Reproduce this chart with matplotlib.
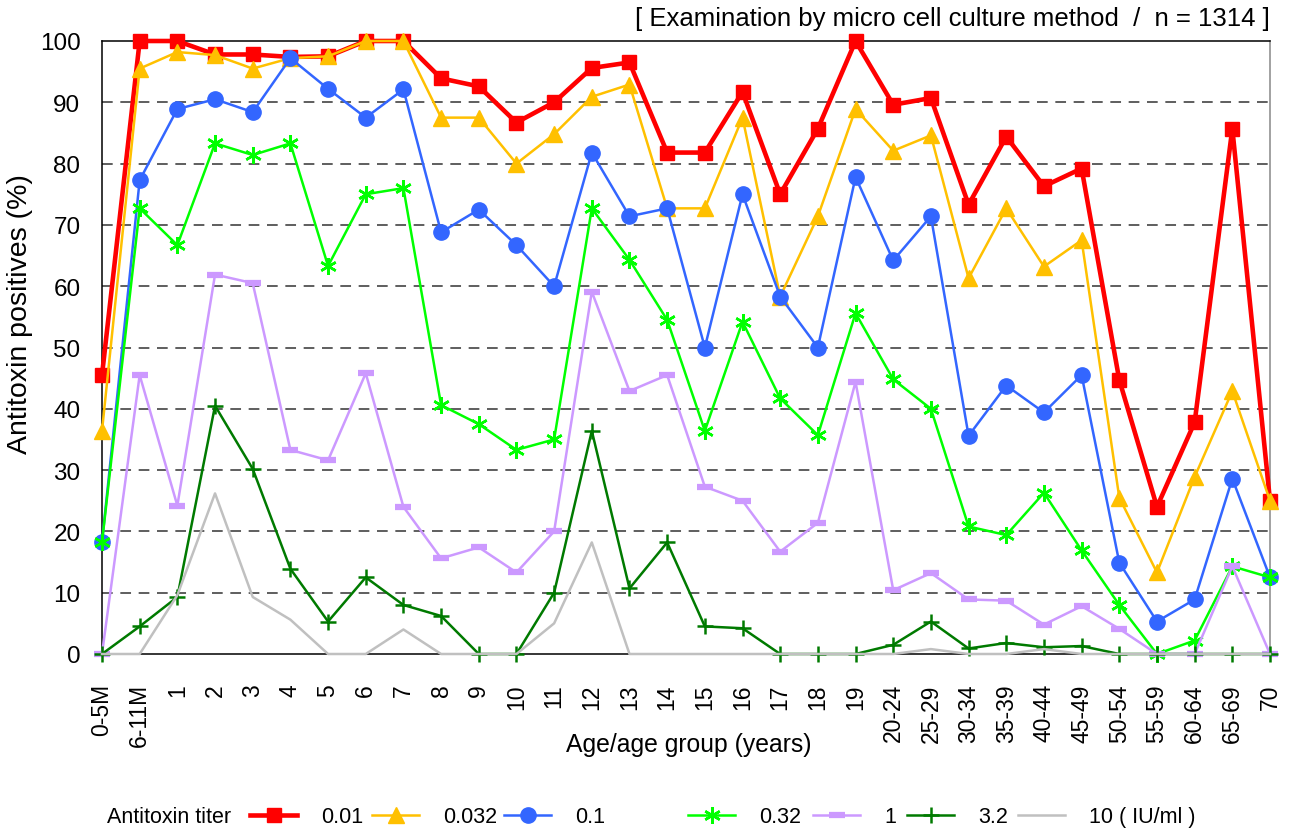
import matplotlib
matplotlib.use('Agg')
import matplotlib.pyplot as plt

plt.rcParams['font.family'] = ['Liberation Sans', 'DejaVu Sans']

# grupos de edad (eje x)
ages = ['0-5M', '6-11M', '1', '2', '3', '4', '5', '6', '7', '8', '9', '10',
        '11', '12', '13', '14', '15', '16', '17', '18', '19',
        '20-24', '25-29', '30-34', '35-39', '40-44', '45-49',
        '50-54', '55-59', '60-64', '65-69', '70']

# porcentaje de positivos por titulo de antitoxina
t001 = [45.5, 100, 100, 97.8, 97.8, 97.4, 97.5, 100, 100, 93.9, 92.6, 86.7,
        90.0, 95.6, 96.5, 81.8, 81.8, 91.7, 75.0, 85.7, 100,
        89.6, 90.7, 73.3, 84.4, 76.3, 79.2, 44.7, 24.0, 37.8, 85.7, 25.0]
t0032 = [36.4, 95.5, 98.2, 97.7, 95.5, 97.2, 97.5, 100, 100, 87.5, 87.5, 80.0,
         84.8, 90.9, 92.9, 72.7, 72.7, 87.5, 58.3, 71.4, 88.9,
         82.1, 84.6, 61.3, 72.7, 63.2, 67.5, 25.5, 13.3, 28.9, 42.9, 25.0]
t01 = [18.2, 77.3, 88.9, 90.5, 88.4, 97.2, 92.2, 87.5, 92.1, 68.8, 72.5, 66.7,
       60.0, 81.8, 71.4, 72.7, 50.0, 75.0, 58.3, 50.0, 77.8,
       64.2, 71.4, 35.6, 43.8, 39.4, 45.5, 14.9, 5.3, 8.9, 28.6, 12.5]
t032 = [18.2, 72.7, 66.7, 83.3, 81.4, 83.3, 63.3, 75.0, 76.0, 40.6, 37.5, 33.3,
        35.0, 72.7, 64.3, 54.5, 36.4, 54.2, 41.7, 35.7, 55.6,
        44.8, 40.0, 20.8, 19.4, 26.3, 16.9, 8.0, 0, 2.2, 14.3, 12.5]
t1 = [0, 45.5, 24.2, 61.9, 60.5, 33.3, 31.6, 45.8, 24.0, 15.6, 17.4, 13.3,
      20.0, 59.1, 42.9, 45.5, 27.3, 25.0, 16.7, 21.4, 44.4,
      10.4, 13.2, 8.9, 8.7, 4.8, 7.8, 4.1, 0, 0, 14.3, 0]
t32 = [0, 4.5, 9.3, 40.5, 30.2, 13.9, 5.3, 12.5, 8.0, 6.2, 0, 0,
       10.0, 36.4, 10.7, 18.2, 4.5, 4.2, 0, 0, 0,
       1.5, 5.3, 0.9, 1.8, 1.1, 1.3, 0, 0, 0, 0, 0]
t10 = [0, 0, 9.6, 26.2, 9.3, 5.6, 0, 0, 4.0, 0, 0, 0,
       5.0, 18.2, 0, 0, 0, 0, 0, 0, 0,
       0, 0.8, 0, 0, 0.8, 0, 0, 0, 0, 0, 0]

W, H = 1290, 837
fig = plt.figure(figsize=(W / 100, H / 100), dpi=100)
ax = fig.add_axes([102 / W, 1 - 655 / H, (1270 - 102) / W, (655 - 42) / H])

x = list(range(len(ages)))
comun = dict(clip_on=False, zorder=4)
l1, = ax.plot(x, t001, color='#FF0000', lw=3.3, marker='s', ms=10, **comun)
l2, = ax.plot(x, t0032, color='#FFC000', lw=1.8, marker='^', ms=11, **comun)
l3, = ax.plot(x, t01, color='#3366FF', lw=1.8, marker='o', ms=11, **comun)
l4, = ax.plot(x, t032, color='#00FF00', lw=1.8, marker=(6, 2, 0), ms=12,
              mew=1.8, **comun)
l5, = ax.plot(x, t1, color='#CC99FF', lw=1.8, marker='_', ms=11, mew=4.5, **comun)
l6, = ax.plot(x, t32, color='#007A00', lw=1.8, marker='+', ms=12, mew=1.8, **comun)
l7, = ax.plot(x, t10, color='#C0C0C0', lw=1.8, **comun)

ax.set_xlim(0, len(ages) - 1)
ax.set_ylim(0, 100)
ax.set_yticks(range(0, 101, 10))
ax.set_xticks(x)
ax.set_xticklabels(ages, rotation=90, va='top', ha='center')
ax.tick_params(axis='both', length=0)
ax.tick_params(axis='y', pad=15.5, labelsize=17.5)
ax.tick_params(axis='x', pad=21, labelsize=16.5)

for v in range(10, 100, 10):
    ax.axhline(v, color='#333333', lw=1.1, ls=(0, (7, 5)), zorder=1)

for s in ['left', 'top', 'bottom']:
    ax.spines[s].set_color('black')
    ax.spines[s].set_linewidth(1.1)
ax.spines['right'].set_color('#888888')
ax.spines['right'].set_linewidth(1.1)

fig.text(20 / W, 1 - 314 / H, 'Antitoxin positives (%)', rotation=90,
         ha='center', va='center', fontsize=20.5)
fig.text(689 / W, 1 - 745 / H, 'Age/age group (years)', ha='center',
         va='center', fontsize=17.8)
fig.text(1270 / W, 1 - 19 / H,
         '[ Examination by micro cell culture method  /  n = 1314 ]',
         ha='right', va='center', fontsize=18.5)

# leyenda inferior, una entrada por vez
ly = 1 - 818 / H
fig.text(107 / W, ly, 'Antitoxin titer', ha='left', va='center', fontsize=15.5)
entradas = [(l1, '0.01', 250), (l2, '0.032', 372), (l3, '0.1', 504),
            (l4, '0.32', 688), (l5, '1', 813), (l6, '3.2', 907),
            (l7, '10 ( IU/ml )', 1018)]
for h, lab, px in entradas:
    fig.legend(handles=[h], labels=[lab], loc='center left',
               bbox_to_anchor=(px / W, ly), frameon=False, borderpad=0,
               borderaxespad=0, handlelength=2.2, handletextpad=1.1,
               fontsize=15.5)

fig.savefig('out.png', dpi=100)
